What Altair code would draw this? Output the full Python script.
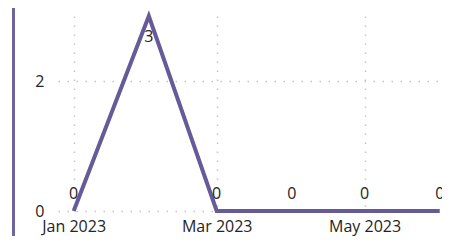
import altair as alt
import pandas as pd

months = ["2023-01-01", "2023-02-01", "2023-03-01", "2023-04-01", "2023-05-01", "2023-06-01"]
values = [0, 3, 0, 0, 0, 0]
x_ticks = ["2023-01-01", "2023-03-01", "2023-05-01"]
y_ticks = [0, 2]

df = pd.DataFrame({"month": months, "value": values})

LINE = "#675A99"
TEXT = "#252423"
FONT = "Open Sans"


def dt(s, h=0, m=0):
    y, mo, d = [int(p) for p in s.split("-")]
    return alt.DateTime(year=y, month=mo, date=d, hours=h, minutes=m, utc=True)


grid_style = dict(grid=True, gridDash=[1.5, 7.5], gridColor="#C8C6C4", gridWidth=1.5)

x_enc = alt.X(
    "month:T",
    scale=alt.Scale(type="utc", domain=[dt("2022-12-25", 12, 48), dt("2023-06-01", 22, 30)]),
    axis=alt.Axis(
        values=[dt(s) for s in x_ticks],
        format="%b %Y",
        title=None,
        ticks=False,
        domain=False,
        labelPadding=7,
        labelFontSize=16,
        labelColor=TEXT,
        labelFont=FONT,
        labelFlush=False,
        labelOverlap=False,
        **grid_style,
    ),
)
y_enc = alt.Y(
    "value:Q",
    scale=alt.Scale(domain=[0, 3], nice=False),
    axis=alt.Axis(
        values=y_ticks,
        format="d",
        title=None,
        ticks=False,
        domain=False,
        labelPadding=14,
        labelFontSize=16,
        labelColor=TEXT,
        labelFont=FONT,
        **grid_style,
    ),
)

base = alt.Chart(df)

line = base.mark_line(color=LINE, strokeWidth=4, strokeJoin="miter", strokeCap="butt").encode(x=x_enc, y=y_enc)

labels_above = base.transform_filter("datum.value < 3").mark_text(
    dy=-12, baseline="alphabetic", fontSize=16, font=FONT, color=TEXT
).encode(x="month:T", y="value:Q", text="value:Q")

labels_below = base.transform_filter("datum.value >= 3").mark_text(
    dy=26, baseline="alphabetic", fontSize=16, font=FONT, color=TEXT
).encode(x="month:T", y="value:Q", text="value:Q")

border = base.mark_rule(color="#6E64A0", strokeWidth=3).encode(
    x=alt.value(-44.5), y=alt.value(-8), y2=alt.value(220)
)

chart = (
    alt.layer(line, labels_above, labels_below, border)
    .properties(
        width=384,
        height=195,
        background="white",
        autosize=alt.AutoSizeParams(type="none"),
        padding={"left": 50, "top": 8, "right": 0, "bottom": 25},
    )
    .configure_view(stroke="transparent", strokeWidth=0)
)

chart.save("out.html", embed_options={"renderer": "svg", "actions": False})
